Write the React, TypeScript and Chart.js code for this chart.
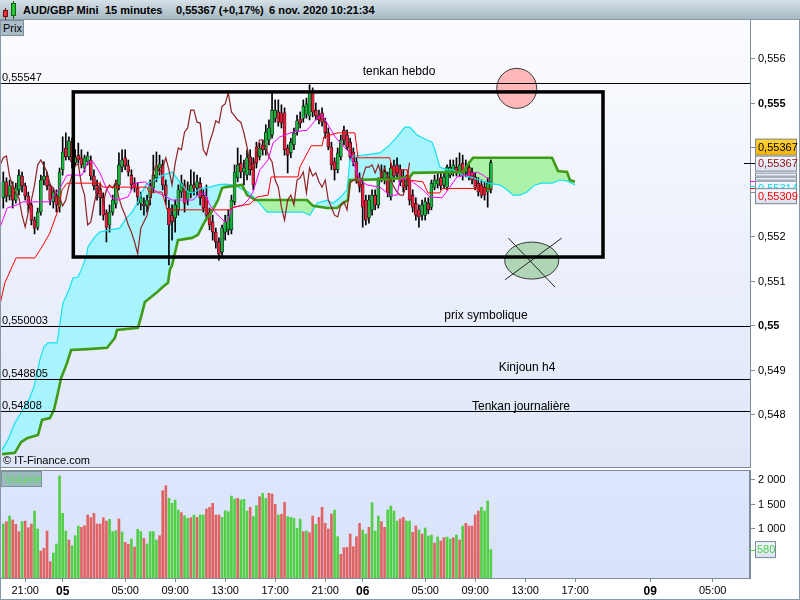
import React, { useEffect, useRef } from "react";
import { Chart, registerables } from "chart.js";

Chart.register(...registerables);

const FONT = '"Liberation Sans", Arial, sans-serif';

// ---------- DATA ----------
// candles: [open, high, low, close], one per 15-minute bar (index 0 = first visible bar)
const candles: number[][] = [
  [0.55288,0.55346,0.55265,0.55324],[0.55324,0.55333,0.55279,0.55292],[0.55292,0.55328,0.55283,0.55315],[0.55315,0.55324,0.55265,0.55283],[0.55283,0.55321,0.55276,0.55310],
  [0.55306,0.55351,0.55294,0.55339],[0.55337,0.55346,0.55301,0.55315],[0.55315,0.55321,0.55283,0.55292],[0.55292,0.55301,0.55256,0.55272],[0.55272,0.55276,0.55227,0.55238],
  [0.55238,0.55245,0.55207,0.55220],[0.55222,0.55265,0.55216,0.55256],[0.55256,0.55339,0.55249,0.55328],[0.55328,0.55369,0.55317,0.55337],[0.55337,0.55346,0.55306,0.55315],
  [0.55315,0.55319,0.55272,0.55283],[0.55279,0.55310,0.55265,0.55301],[0.55294,0.55306,0.55256,0.55272],[0.55267,0.55355,0.55256,0.55346],[0.55351,0.55425,0.55339,0.55391],
  [0.55400,0.55434,0.55373,0.55380],[0.55380,0.55425,0.55373,0.55416],[0.55413,0.55422,0.55355,0.55369],[0.55366,0.55396,0.55360,0.55380],[0.55384,0.55411,0.55366,0.55373],
  [0.55378,0.55396,0.55355,0.55362],[0.55355,0.55384,0.55346,0.55378],[0.55369,0.55391,0.55362,0.55382],[0.55373,0.55382,0.55328,0.55337],[0.55337,0.55351,0.55306,0.55315],
  [0.55315,0.55328,0.55283,0.55297],[0.55306,0.55315,0.55249,0.55288],[0.55288,0.55299,0.55238,0.55249],[0.55254,0.55261,0.55189,0.55222],[0.55227,0.55272,0.55211,0.55256],
  [0.55256,0.55294,0.55249,0.55283],[0.55274,0.55328,0.55265,0.55317],[0.55317,0.55389,0.55306,0.55362],[0.55357,0.55396,0.55346,0.55373],[0.55378,0.55396,0.55351,0.55360],
  [0.55360,0.55373,0.55337,0.55346],[0.55339,0.55351,0.55306,0.55317],[0.55321,0.55333,0.55301,0.55310],[0.55310,0.55321,0.55272,0.55290],[0.55276,0.55301,0.55261,0.55288],
  [0.55274,0.55288,0.55249,0.55270],[0.55270,0.55294,0.55256,0.55283],[0.55288,0.55328,0.55272,0.55315],[0.55310,0.55384,0.55299,0.55339],[0.55333,0.55391,0.55324,0.55360],
  [0.55355,0.55384,0.55339,0.55364],[0.55362,0.55373,0.55306,0.55317],[0.55317,0.55328,0.55272,0.55294],[0.55265,0.55283,0.55137,0.55227],[0.55249,0.55272,0.55193,0.55234],
  [0.55243,0.55283,0.55211,0.55272],[0.55261,0.55317,0.55249,0.55306],[0.55301,0.55339,0.55288,0.55321],[0.55317,0.55328,0.55256,0.55276],[0.55283,0.55324,0.55272,0.55306],
  [0.55299,0.55351,0.55288,0.55317],[0.55317,0.55346,0.55294,0.55310],[0.55310,0.55339,0.55294,0.55324],[0.55321,0.55333,0.55272,0.55288],[0.55294,0.55306,0.55256,0.55265],
  [0.55288,0.55317,0.55238,0.55249],[0.55256,0.55265,0.55216,0.55227],[0.55234,0.55249,0.55193,0.55211],[0.55211,0.55220,0.55175,0.55189],[0.55189,0.55198,0.55148,0.55162],
  [0.55166,0.55227,0.55153,0.55220],[0.55211,0.55249,0.55193,0.55234],[0.55216,0.55261,0.55205,0.55249],[0.55216,0.55294,0.55207,0.55283],[0.55279,0.55362,0.55272,0.55346],
  [0.55333,0.55400,0.55324,0.55362],[0.55366,0.55384,0.55333,0.55346],[0.55346,0.55373,0.55317,0.55355],[0.55339,0.55396,0.55328,0.55378],[0.55380,0.55396,0.55339,0.55351],
  [0.55366,0.55378,0.55306,0.55317],[0.55402,0.55413,0.55355,0.55366],[0.55380,0.55411,0.55373,0.55400],[0.55407,0.55418,0.55384,0.55396],[0.55396,0.55452,0.55384,0.55436],
  [0.55418,0.55463,0.55407,0.55445],[0.55429,0.55524,0.55422,0.55485],[0.55467,0.55508,0.55458,0.55485],[0.55481,0.55508,0.55449,0.55458],[0.55479,0.55497,0.55445,0.55456],
  [0.55479,0.55490,0.55384,0.55396],[0.55400,0.55407,0.55344,0.55384],[0.55389,0.55422,0.55378,0.55413],[0.55407,0.55445,0.55396,0.55434],[0.55436,0.55474,0.55429,0.55461],
  [0.55465,0.55481,0.55445,0.55456],[0.55467,0.55508,0.55458,0.55494],[0.55476,0.55512,0.55467,0.55499],[0.55472,0.55542,0.55463,0.55524],[0.55524,0.55535,0.55470,0.55481],
  [0.55485,0.55501,0.55463,0.55472],[0.55474,0.55485,0.55454,0.55463],[0.55479,0.55490,0.55449,0.55458],[0.55458,0.55467,0.55422,0.55434],[0.55434,0.55445,0.55396,0.55402],
  [0.55402,0.55413,0.55351,0.55362],[0.55369,0.55378,0.55328,0.55351],[0.55351,0.55400,0.55344,0.55389],[0.55380,0.55429,0.55373,0.55418],[0.55440,0.55449,0.55407,0.55418],
  [0.55429,0.55440,0.55396,0.55402],[0.55413,0.55422,0.55373,0.55380],[0.55391,0.55400,0.55360,0.55369],[0.55369,0.55378,0.55321,0.55328],[0.55333,0.55344,0.55301,0.55312],
  [0.55319,0.55328,0.55222,0.55267],[0.55283,0.55294,0.55227,0.55238],[0.55243,0.55294,0.55231,0.55283],[0.55261,0.55306,0.55249,0.55294],[0.55294,0.55306,0.55261,0.55272],
  [0.55272,0.55333,0.55265,0.55328],[0.55346,0.55362,0.55324,0.55333],[0.55328,0.55360,0.55319,0.55346],[0.55335,0.55346,0.55290,0.55299],[0.55290,0.55366,0.55283,0.55355],
  [0.55360,0.55373,0.55324,0.55337],[0.55362,0.55378,0.55333,0.55344],[0.55351,0.55362,0.55315,0.55324],[0.55337,0.55351,0.55301,0.55312],[0.55315,0.55339,0.55306,0.55328],
  [0.55328,0.55337,0.55272,0.55283],[0.55294,0.55306,0.55256,0.55267],[0.55276,0.55288,0.55238,0.55249],[0.55261,0.55272,0.55222,0.55245],[0.55249,0.55283,0.55238,0.55272],
  [0.55249,0.55288,0.55238,0.55279],[0.55276,0.55288,0.55252,0.55261],[0.55267,0.55328,0.55261,0.55321],[0.55312,0.55339,0.55306,0.55328],[0.55319,0.55342,0.55310,0.55328],
  [0.55333,0.55346,0.55306,0.55315],[0.55317,0.55346,0.55308,0.55335],[0.55312,0.55362,0.55306,0.55357],[0.55339,0.55373,0.55333,0.55357],[0.55346,0.55373,0.55337,0.55362],
  [0.55357,0.55378,0.55337,0.55344],[0.55344,0.55389,0.55337,0.55362],[0.55366,0.55384,0.55328,0.55339],[0.55346,0.55373,0.55335,0.55355],[0.55357,0.55369,0.55328,0.55335],
  [0.55346,0.55355,0.55319,0.55328],[0.55335,0.55344,0.55306,0.55312],[0.55321,0.55333,0.55292,0.55301],[0.55317,0.55328,0.55288,0.55294],[0.55312,0.55324,0.55283,0.55294],
  [0.55301,0.55333,0.55267,0.55321],[0.55306,0.55373,0.55299,0.55367],
];

const volumes: number[] = [
  1102,1150,1265,1184,1095,946,1150,1163,1027,1102,
  1367,1000,551,605,959,333,510,694,2082,1320,
  959,776,660,864,1061,1034,1068,1286,1231,1320,
  1102,1102,1231,1163,1197,946,966,1204,939,728,
  687,796,633,993,946,810,694,946,946,776,
  864,1782,1884,1626,1524,1592,1388,1333,1272,1218,
  1231,1286,1238,1286,1286,1408,1442,1524,1286,1286,
  1238,1374,1354,1673,1612,1626,1592,1605,1367,1442,
  1252,1476,1660,1728,1626,1728,1714,1503,1286,1299,
  1544,1252,1238,1218,1014,1204,946,959,925,1265,
  1095,1238,1442,1116,1000,1306,1388,844,483,619,
  626,898,639,844,1116,980,898,1034,1537,959,
  1265,1150,1034,1388,1469,1367,1163,1204,1238,1163,
  1163,932,1061,980,898,1020,857,878,714,837,
  755,823,837,796,823,878,776,1061,1116,1061,
  1061,1286,1367,1442,1367,1571,580,
];

// 1 = rising bar (green), 0 = falling bar (red), as coloured in the volume panel
const volumeUp: number[] = [
  1,0,1,0,0,0,1,0,0,0, 1,1,0,0,0,0,1,1,1,1, 1,0,1,1,1,0,0,0,0,0, 0,0,0,0,1,1,1,0,1,0,
  0,1,0,1,1,0,1,1,1,1, 0,0,0,1,1,1,1,0,1,1, 0,1,0,1,1,0,0,0,0,0, 1,1,1,1,1,0,1,1,1,0,
  1,1,0,1,1,0,0,0,1,0, 0,1,1,1,1,1,0,1,0,0, 1,0,0,0,0,0,1,1,0,0, 0,0,0,0,0,1,1,0,1,1,
  1,0,0,1,1,1,1,0,0,1, 1,0,0,1,0,1,1,1,0,1, 0,0,1,1,0,1,0,1,0,0, 0,0,0,1,1,1,1,
];

// Ichimoku lines: [bar index, price]
const tenkan: number[][] = [
  [-1.1,0.55047],[0.5,0.55097],[2.8,0.55133],[4.1,0.55153],[10.1,0.55153],[12.4,0.55178],[14.9,0.55209],[17.2,0.55254],
  [18.8,0.55306],[20.4,0.55321],[30.9,0.55321],[31.9,0.55312],[46,0.55312],[46.6,0.55301],[50.8,0.55301],[52.4,0.55261],
  [72.5,0.55261],[73.5,0.55267],[78.9,0.55274],[81.2,0.55290],[84.7,0.55294],[85.7,0.55335],[94.3,0.55335],[94.9,0.55357],
  [98.5,0.55405],[102,0.55405],[102.6,0.55425],[107.1,0.55434],[112.5,0.55434],[113.5,0.55378],[123.7,0.55378],[124.4,0.55351],
  [129.2,0.55351],[129.5,0.55328],[134.3,0.55324],[135.9,0.55299],[139.7,0.55299],[140.4,0.55309],[156.4,0.55309],
];
const kijun: number[][] = [
  [-1.1,0.55220],[1.2,0.55265],[4.4,0.55272],[6.3,0.55279],[14.9,0.55279],[18.1,0.55310],[20.4,0.55339],[25.2,0.55339],
  [27.1,0.55369],[28.7,0.55369],[30.9,0.55344],[33.2,0.55306],[34.8,0.55288],[36.7,0.55283],[39.9,0.55290],[42.1,0.55321],
  [45.3,0.55324],[49.2,0.55301],[54,0.55283],[60.7,0.55283],[62.3,0.55294],[64.5,0.55299],[66.1,0.55272],[67.7,0.55256],
  [70.9,0.55234],[71.9,0.55238],[73.2,0.55265],[76.7,0.55272],[78.3,0.55283],[79.9,0.55301],[82.1,0.55351],[84.7,0.55373],
  [86.3,0.55411],[88.5,0.55425],[92.7,0.55436],[97.2,0.55440],[100.4,0.55467],[102,0.55474],[103,0.55463],[106.2,0.55425],
  [108.4,0.55407],[110.9,0.55389],[114.1,0.55328],[116.4,0.55317],[120.5,0.55312],[123.7,0.55294],[126,0.55294],[126.9,0.55328],
  [129.2,0.55333],[134.3,0.55306],[136.5,0.55290],[140.4,0.55288],[142.9,0.55312],[145.2,0.55335],[148.4,0.55339],[151.6,0.55346],
  [153.5,0.55339],[156,0.55326],
];
const senkouA: number[][] = [
  [-0.4,0.54721],[1.5,0.54744],[3.7,0.54782],[5.7,0.54805],[8.2,0.54834],[9.8,0.54863],[11.7,0.54924],[13,0.54953],
  [14.3,0.54962],[17.2,0.54962],[17.8,0.54991],[19.1,0.55052],[21,0.55081],[22.3,0.55108],[23.9,0.55110],[25.2,0.55130],
  [26.5,0.55155],[27.1,0.55178],[29.3,0.55200],[30.9,0.55211],[34.1,0.55216],[37.3,0.55220],[38.9,0.55238],[41.2,0.55256],
  [43.1,0.55279],[44.4,0.55301],[46,0.55321],[47.6,0.55324],[51.1,0.55339],[54,0.55346],[57.2,0.55317],[59.1,0.55301],
  [60.7,0.55299],[63.6,0.55310],[66.1,0.55312],[68.7,0.55317],[70.9,0.55319],[73.2,0.55317],[75.1,0.55312],[76.7,0.55306],
  [78.3,0.55301],[80.5,0.55288],[84.4,0.55256],[95.9,0.55256],[98.1,0.55249],[100.4,0.55276],[103.6,0.55283],[105.5,0.55276],
  [107.7,0.55288],[110,0.55306],[110.9,0.55373],[111.9,0.55382],[115.1,0.55384],[120.5,0.55389],[123.7,0.55407],[126,0.55425],
  [128.5,0.55447],[130.1,0.55447],[132.4,0.55429],[135.6,0.55418],[137.2,0.55413],[138.1,0.55396],[139.7,0.55357],[142,0.55351],
  [143.9,0.55351],[147.1,0.55339],[150.3,0.55333],[155.7,0.55320],[158.9,0.55317],[161.2,0.55306],[163.1,0.55294],[165.3,0.55294],
  [167.6,0.55301],[170.1,0.55317],[172.4,0.55321],[175.6,0.55321],[178.1,0.55328],[180.4,0.55326],[182.9,0.55317],
];
const senkouB: number[][] = [
  [-0.4,0.54712],[3.7,0.54715],[5.7,0.54739],[7.6,0.54748],[11.1,0.54755],[12.4,0.54789],[14.9,0.54793],[16.2,0.54811],
  [17.2,0.54841],[18.5,0.54883],[20.4,0.54917],[21.7,0.54946],[27.1,0.54948],[33.2,0.54951],[35.7,0.54973],[36.4,0.54991],
  [43.1,0.54996],[44.4,0.55029],[45.3,0.55054],[47.3,0.55065],[49.2,0.55076],[51.1,0.55088],[52.7,0.55097],[53.3,0.55126],
  [54,0.55137],[55.9,0.55193],[60.4,0.55198],[62.3,0.55205],[63.9,0.55227],[65.2,0.55243],[66.1,0.55249],[68.7,0.55283],
  [70,0.55310],[70.9,0.55312],[76.4,0.55317],[78,0.55294],[79.6,0.55288],[80.5,0.55283],[97.2,0.55283],[99.1,0.55270],
  [103.6,0.55265],[106.8,0.55265],[108.7,0.55276],[110.3,0.55283],[110.9,0.55328],[123.7,0.55330],[130.1,0.55335],[131.1,0.55344],
  [147.1,0.55346],[149.3,0.55369],[150.3,0.55378],[175.6,0.55378],[177.5,0.55348],[180.4,0.55346],[181.3,0.55328],[182.9,0.55324],
];
const CHIKOU_SHIFT = 26;

// horizontal levels drawn by hand on the chart
const levelPrices: number[] = [0.55547, 0.550003, 0.548805, 0.54808];
const levelNames: string[] = ["tenkan hebdo", "prix symbolique", "Kinjoun h4", "Tenkan journalière"];

// last values shown in the right-hand tags
const tagClose = 0.55367;
const tagChikou = 0.55367;
const tagSenkouA = 0.55314;
const tagTenkan = 0.55309;
const tagVolume = 580;

const priceTicks: number[] = [0.548, 0.549, 0.55, 0.551, 0.552, 0.553, 0.554, 0.555, 0.556];
const volumeTicks: number[] = [1000, 1500, 2000];
const timeTicks: number[] = [7, 19, 39, 55, 71, 87, 103, 115, 135, 151, 167, 183, 207, 227];
const timeLabels: string[] = ["21:00", "05", "05:00", "09:00", "13:00", "17:00", "21:00", "06", "05:00", "09:00", "13:00", "17:00", "09", "05:00"];

// ---------- LAYOUT / STYLE ----------
const X_MIN = -1.056;
const X_MAX = 238.94;
const Y_MAX = 0.556876;
const Y_MIN = 0.546809;
const V_MAX = 2204;
const GREEN = "#18b43e";
const RED = "#e4213c";
const AXIS = "#7d8f9c";
const LEVEL_TEXT_X = [399, 486, 527, 521];
const LEVEL_TEXT_DY = [9, 8, 9, 2];
const ZONE = { x0: 22.4, x1: 191.9, top: 0.55526, bottom: 0.55155 };
const CIRCLE = { x: 164.3, y: 0.55534, r: 20 };
const ELLIPSE = { x: 169.1, y: 0.55147, rx: 27, ry: 18.5 };

const pts = (arr: number[][]) => arr.map(([x, y]) => ({ x, y }));
const fmt5 = (v: number) => v.toFixed(5).replace(".", ",");

const noPadY = (width: number) => (s: any) => {
  s.width = width;
  s.paddingTop = 0;
  s.paddingBottom = 0;
};

const mainBackground = {
  id: "mainBackground",
  beforeDraw(chart: any) {
    const { ctx, chartArea: a } = chart;
    const g = ctx.createLinearGradient(0, a.top, 0, a.bottom);
    g.addColorStop(0, "#fbfcff");
    g.addColorStop(1, "#dee6f8");
    ctx.save();
    ctx.fillStyle = g;
    ctx.fillRect(a.left, a.top, a.right - a.left, a.bottom - a.top);
    ctx.restore();
  },
  afterDraw(chart: any) {
    const { ctx, chartArea: a } = chart;
    ctx.save();
    ctx.strokeStyle = AXIS;
    ctx.lineWidth = 1;
    ctx.beginPath();
    ctx.moveTo(a.left, a.bottom - 0.5);
    ctx.lineTo(a.right, a.bottom - 0.5);
    ctx.stroke();
    ctx.restore();
  },
};

const annotations = {
  id: "annotations",
  afterDatasetsDraw(chart: any) {
    const { ctx, chartArea: a, scales } = chart;
    const xs = scales.x, ys = scales.y;
    ctx.save();
    // pink circle
    const cx = xs.getPixelForValue(CIRCLE.x), cy = ys.getPixelForValue(CIRCLE.y);
    ctx.beginPath();
    ctx.arc(cx, cy, CIRCLE.r, 0, Math.PI * 2);
    ctx.fillStyle = "#ffb7b7";
    ctx.fill();
    ctx.lineWidth = 1;
    ctx.strokeStyle = "#3a3a3a";
    ctx.stroke();
    // crossed ellipse
    const ex = xs.getPixelForValue(ELLIPSE.x), ey = ys.getPixelForValue(ELLIPSE.y);
    ctx.beginPath();
    ctx.ellipse(ex, ey, ELLIPSE.rx, ELLIPSE.ry, 0, 0, Math.PI * 2);
    ctx.fillStyle = "#b1d6b7";
    ctx.fill();
    ctx.stroke();
    ctx.beginPath();
    ctx.moveTo(ex - 23.4, ey - 22.5);
    ctx.lineTo(ex + 23.3, ey + 26.5);
    ctx.moveTo(ex + 30, ey - 22.5);
    ctx.lineTo(ex - 26.7, ey + 19.2);
    ctx.strokeStyle = "#222";
    ctx.stroke();
    // horizontal levels
    levelPrices.forEach((p, k) => {
      const py = Math.round(ys.getPixelForValue(p)) + 0.5;
      ctx.beginPath();
      ctx.moveTo(a.left, py);
      ctx.lineTo(a.right, py);
      ctx.strokeStyle = "#000";
      ctx.lineWidth = 1;
      ctx.stroke();
      ctx.fillStyle = "#000";
      ctx.textBaseline = "alphabetic";
      ctx.textAlign = "left";
      ctx.font = `11px ${FONT}`;
      ctx.fillText(String(p).replace(".", ","), 2, py - 3);
      ctx.textAlign = "center";
      ctx.font = `12px ${FONT}`;
      ctx.fillText(levelNames[k], LEVEL_TEXT_X[k], py - LEVEL_TEXT_DY[k]);
    });
    // rectangle zone
    const rx0 = xs.getPixelForValue(ZONE.x0), rx1 = xs.getPixelForValue(ZONE.x1);
    const ry0 = ys.getPixelForValue(ZONE.top), ry1 = ys.getPixelForValue(ZONE.bottom);
    ctx.lineWidth = 3.5;
    ctx.strokeStyle = "#000";
    ctx.strokeRect(rx0, ry0, rx1 - rx0, ry1 - ry0);
    ctx.restore();
  },
};

const priceTags = {
  id: "priceTags",
  afterDraw(chart: any) {
    const { ctx, scales } = chart;
    const ys = scales.y;
    const yc = ys.getPixelForValue(tagClose);
    const bx = 755, bw = 42;
    ctx.save();
    const light = (top: number, h: number) => {
      const g = ctx.createLinearGradient(0, top, 0, top + h);
      g.addColorStop(0, "#fbfcff");
      g.addColorStop(1, "#d9dfee");
      return g;
    };
    const box = (top: number, h: number, fill: any, text: string, color: string) => {
      ctx.fillStyle = fill;
      ctx.fillRect(bx, top, bw, h);
      ctx.strokeStyle = "#7a8a98";
      ctx.lineWidth = 1;
      ctx.strokeRect(bx + 0.5, top + 0.5, bw - 1, h - 1);
      if (text) {
        ctx.fillStyle = color;
        ctx.font = `11px ${FONT}`;
        ctx.textAlign = "left";
        ctx.textBaseline = "middle";
        ctx.fillText(text, bx + 3, top + h / 2 + 0.5);
      }
    };
    const tick = (y: number, color: string, x0: number, x1: number) => {
      ctx.beginPath();
      ctx.moveTo(x0, Math.round(y) + 0.5);
      ctx.lineTo(x1, Math.round(y) + 0.5);
      ctx.strokeStyle = color;
      ctx.lineWidth = 1;
      ctx.stroke();
    };
    tick(yc, "#000", 744, 755);
    tick(ys.getPixelForValue(kijun[kijun.length - 1][1]), "#ff00ff", 750, 755);
    tick(ys.getPixelForValue(tagSenkouA), "#00e0f0", 750, 755);
    tick(ys.getPixelForValue(tagTenkan), "#ff0000", 750, 755);
    tick(yc - 15.5, AXIS, 750, 755);
    const gold = ctx.createLinearGradient(0, yc - 24, 0, yc - 7);
    gold.addColorStop(0, "#ffd440");
    gold.addColorStop(1, "#f2b300");
    box(yc - 24, 17, gold, fmt5(tagClose), "#000");
    box(yc - 7, 16, light(yc - 7, 16), fmt5(tagChikou), "#8b0f0f");
    box(yc + 10, 4, light(yc + 10, 4), "", "");
    box(yc + 14, 4, light(yc + 14, 4), "", "");
    box(yc + 18, 16, light(yc + 18, 16), fmt5(tagSenkouA), "#10d8ec");
    box(yc + 25.5, 16, light(yc + 25.5, 16), fmt5(tagTenkan), "#ff0000");
    ctx.restore();
  },
};

const volumeDecor = {
  id: "volumeDecor",
  beforeDraw(chart: any) {
    const { ctx, chartArea: a } = chart;
    const g = ctx.createLinearGradient(0, a.top, 0, a.bottom);
    g.addColorStop(0, "#dde6fc");
    g.addColorStop(1, "#d8e2fa");
    ctx.save();
    ctx.fillStyle = g;
    ctx.fillRect(a.left, a.top, a.right - a.left, a.bottom - a.top);
    ctx.restore();
  },
  afterDraw(chart: any) {
    const { ctx, chartArea: a, scales } = chart;
    ctx.save();
    ctx.strokeStyle = AXIS;
    ctx.lineWidth = 1;
    ctx.strokeRect(a.left + 0.5, a.top + 0.5, a.right - a.left - 1, a.bottom - a.top);
    const y = scales.y.getPixelForValue(tagVolume);
    ctx.beginPath();
    ctx.moveTo(750, Math.round(y) + 0.5);
    ctx.lineTo(755, Math.round(y) + 0.5);
    ctx.strokeStyle = "#50c850";
    ctx.stroke();
    const g = ctx.createLinearGradient(0, y - 8.5, 0, y + 8.5);
    g.addColorStop(0, "#f4f7fd");
    g.addColorStop(1, "#d9e1f1");
    ctx.fillStyle = g;
    ctx.fillRect(755, y - 8.5, 21, 17);
    ctx.strokeStyle = "#7a8a98";
    ctx.strokeRect(755.5, y - 8, 20, 16);
    ctx.fillStyle = "#4cd04c";
    ctx.font = `11px ${FONT}`;
    ctx.textBaseline = "middle";
    ctx.textAlign = "left";
    ctx.fillText(String(tagVolume), 757, y + 0.5);
    ctx.restore();
  },
};

export default function App() {
  const mainRef = useRef<HTMLCanvasElement>(null);
  const volRef = useRef<HTMLCanvasElement>(null);

  useEffect(() => {
    Chart.defaults.font.family = FONT;
    const isRound = (v: number) => Math.abs(v * 200 - Math.round(v * 200)) < 1e-6;

    const main = new Chart(mainRef.current as HTMLCanvasElement, {
      type: "line",
      data: {
        datasets: [
          { type: "line", data: pts(tenkan), borderColor: "#ff0000", borderWidth: 1, pointRadius: 0, order: 1 },
          { type: "line", data: pts(kijun), borderColor: "#ff00ff", borderWidth: 1, pointRadius: 0, order: 2 },
          {
            type: "line",
            data: candles.map((c, i) => ({ x: i - CHIKOU_SHIFT, y: c[3] })),
            borderColor: "#8e2222",
            borderWidth: 1.2,
            pointRadius: 0,
            order: 3,
          },
          {
            type: "line",
            data: pts(senkouA),
            borderColor: "#14e2f2",
            borderWidth: 1.2,
            pointRadius: 0,
            fill: { target: 4, above: "#a8f4fc", below: "#acf2a8" },
            order: 5,
          },
          { type: "line", data: pts(senkouB), borderColor: "#3f9a16", borderWidth: 2.6, pointRadius: 0, order: 4 },
          {
            type: "bar",
            data: candles.map((c, i) => ({ x: i, y: [c[0], c[3]] })),
            backgroundColor: candles.map((c) => (c[3] >= c[0] ? GREEN : RED)),
            borderColor: "#000",
            borderWidth: 0.6,
            borderSkipped: false,
            barThickness: 3,
            grouped: false,
            minBarLength: 1,
            order: 6,
          },
          {
            type: "bar",
            data: candles.map((c, i) => ({ x: i, y: [c[2], c[1]] })),
            backgroundColor: "#000",
            barThickness: 1,
            grouped: false,
            order: 7,
          },
        ],
      } as any,
      options: {
        animation: false,
        responsive: false,
        events: [],
        layout: { padding: 0 },
        plugins: {
          legend: { display: false },
          tooltip: { enabled: false },
          filler: { drawTime: "beforeDatasetsDraw" },
        } as any,
        scales: {
          x: { type: "linear", min: X_MIN, max: X_MAX, display: false, offset: false },
          y: {
            type: "linear",
            position: "right",
            min: Y_MIN,
            max: Y_MAX,
            afterBuildTicks: (s: any) => {
              s.ticks = priceTicks.map((value) => ({ value }));
            },
            afterFit: noPadY(50),
            grid: { drawOnChartArea: false, tickLength: 5, color: AXIS },
            border: { color: AXIS },
            ticks: {
              color: "#000",
              padding: 3,
              autoSkip: false,
              font: (c: any) => ({ family: FONT, size: 11, weight: c.tick && isRound(c.tick.value) ? "bold" : "normal" }),
              callback: (v: any) => String(Number(Number(v).toFixed(3))).replace(".", ","),
            },
          },
        },
      } as any,
      plugins: [mainBackground, annotations, priceTags],
    });

    const vol = new Chart(volRef.current as HTMLCanvasElement, {
      type: "bar",
      data: {
        datasets: [
          {
            data: volumes.map((v, i) => ({ x: i, y: v })),
            backgroundColor: volumeUp.map((u) => (u ? "#52cf45" : "#e06464")),
            barThickness: 2,
            grouped: false,
          },
        ],
      } as any,
      options: {
        animation: false,
        responsive: false,
        events: [],
        layout: { padding: { top: 2, left: 0, right: 0, bottom: 0 } },
        plugins: { legend: { display: false }, tooltip: { enabled: false } },
        scales: {
          x: {
            type: "linear",
            min: X_MIN,
            max: X_MAX,
            offset: false,
            afterBuildTicks: (s: any) => {
              s.ticks = timeTicks.map((value) => ({ value }));
            },
            afterFit: (s: any) => {
              s.height = 22;
              s.paddingLeft = 0;
              s.paddingRight = 0;
            },
            grid: { drawOnChartArea: false, tickLength: 4, color: AXIS, offset: false },
            border: { color: AXIS },
            ticks: {
              color: "#000",
              padding: 2,
              autoSkip: false,
              maxRotation: 0,
              minRotation: 0,
              font: (c: any) => {
                const lab = timeLabels[c.index] || "";
                return lab.length === 2
                  ? { family: FONT, size: 12, weight: "bold" }
                  : { family: FONT, size: 11, weight: "normal" };
              },
              callback: (_v: any, idx: number) => timeLabels[idx],
            },
          },
          y: {
            type: "linear",
            position: "right",
            min: 0,
            max: V_MAX,
            afterBuildTicks: (s: any) => {
              s.ticks = volumeTicks.map((value) => ({ value }));
            },
            afterFit: noPadY(50),
            grid: { drawOnChartArea: false, tickLength: 5, color: AXIS },
            border: { color: AXIS },
            ticks: {
              color: "#000",
              padding: 3,
              font: { family: FONT, size: 11 },
              callback: (v: any) => String(v).replace(/\B(?=(\d{3})+(?!\d))/g, " "),
            },
          },
        },
      } as any,
      plugins: [volumeDecor],
    });

    return () => {
      main.destroy();
      vol.destroy();
    };
  }, []);

  const header = [
    { text: "AUD/GBP Mini", left: 23 },
    { text: "15 minutes", left: 105 },
    { text: "0,55367 (+0,17%)", left: 176 },
    { text: "6 nov. 2020 10:21:34", left: 269 },
  ];

  return (
    <div style={{ position: "fixed", left: 0, top: 0, width: 800, height: 600, background: "#fff", overflow: "hidden", fontFamily: FONT }}>
      <div
        style={{
          position: "absolute", left: 0, top: 0, width: 800, height: 20,
          background: "linear-gradient(#d6e0e6, #a6b9c4)", borderBottom: "1px solid #8898a4", boxSizing: "border-box",
        }}
      >
        <div style={{ position: "absolute", left: 5, top: 8, width: 1, height: 12, background: "#5a1010" }} />
        <div style={{ position: "absolute", left: 3, top: 10, width: 5, height: 7, background: "#e8303c", border: "1px solid #701010", boxSizing: "border-box" }} />
        <div style={{ position: "absolute", left: 13, top: 1, width: 1, height: 18, background: "#105a10" }} />
        <div style={{ position: "absolute", left: 11, top: 3, width: 5, height: 13, background: "#28c83c", border: "1px solid #106010", boxSizing: "border-box" }} />
        {header.map((h) => (
          <span key={h.left} style={{ position: "absolute", left: h.left, top: 3, fontSize: 11, fontWeight: "bold", lineHeight: "14px", color: "#000", whiteSpace: "nowrap" }}>
            {h.text}
          </span>
        ))}
      </div>
      <canvas ref={mainRef} width={800} height={448} style={{ position: "absolute", left: 0, top: 20, width: 800, height: 448 }} />
      <canvas ref={volRef} width={800} height={132} style={{ position: "absolute", left: 0, top: 468, width: 800, height: 132 }} />
      <div
        style={{
          position: "absolute", left: 0, top: 20, width: 24, height: 16, background: "#a9bcc8",
          border: "1px solid #7b8d99", boxSizing: "border-box", fontSize: 11, lineHeight: "14px", paddingLeft: 2, color: "#000",
        }}
      >
        Prix
      </div>
      <div
        style={{
          position: "absolute", left: 1, top: 471, width: 41, height: 16, background: "#9bbabe",
          border: "1px solid #7a9498", boxSizing: "border-box", fontSize: 11, lineHeight: "14px", paddingLeft: 3, color: "#62d862",
        }}
      >
        Volume
      </div>
      <div style={{ position: "absolute", left: 3, top: 454, fontSize: 11, lineHeight: "13px", color: "#000" }}>© IT-Finance.com</div>
      <div
        style={{
          position: "absolute", left: 0, top: 20, width: 800, height: 580, border: "1px solid #8797a5",
          borderTop: "none", boxSizing: "border-box", pointerEvents: "none",
        }}
      />
    </div>
  );
}
